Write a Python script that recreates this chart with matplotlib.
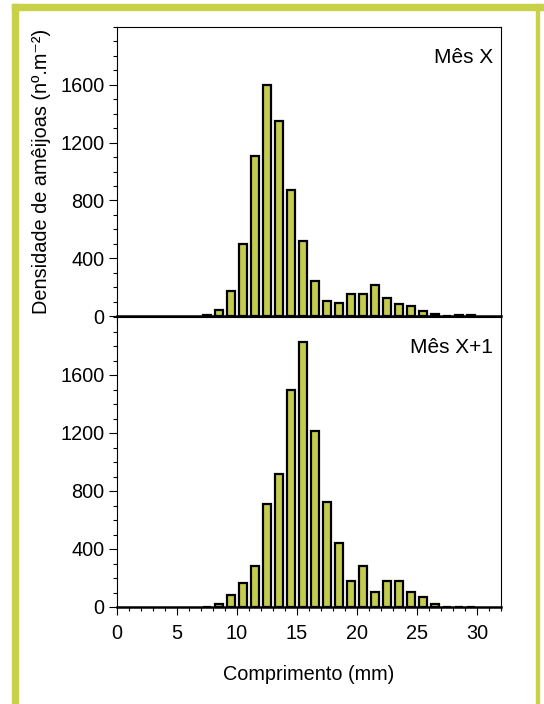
import matplotlib.pyplot as plt
from matplotlib.patches import Rectangle
from matplotlib.ticker import MultipleLocator

plt.rcParams["font.family"] = ["Liberation Sans", "DejaVu Sans"]

# class centres (mm)
length = [7.5, 8.5, 9.5, 10.5, 11.5, 12.5, 13.5, 14.5, 15.5, 16.5, 17.5, 18.5,
          19.5, 20.5, 21.5, 22.5, 23.5, 24.5, 25.5, 26.5, 27.5, 28.5, 29.5]
month_x = [8, 39, 171, 495, 1105, 1600, 1348, 873, 522, 245, 107, 90,
           150, 150, 217, 128, 85, 69, 32, 11, 0, 8, 8]
month_x1 = [0, 20, 80, 165, 283, 708, 920, 1497, 1828, 1215, 722, 438,
            178, 281, 103, 178, 178, 103, 66, 20, 0, 0, 0]

BAR = "#c4cc4f"
FRAME = "#c8d148"
W, H = 544, 704
FS = 14.3

fig = plt.figure(figsize=(W / 100, H / 100), dpi=100)

# green frame
for x0, y0, w, h in [(12, 4, 532, 6), (12, 4, 6, 700), (536, 4, 3, 700)]:
    fig.patches.append(Rectangle((x0 / W, 1 - (y0 + h) / H), w / W, h / H,
                                 transform=fig.transFigure, color=FRAME, zorder=0))

left, right = 117 / W, 501 / W
ax1 = fig.add_axes([left, 1 - 316 / H, right - left, (316 - 27) / H])
ax2 = fig.add_axes([left, 1 - 607 / H, right - left, (607 - 317) / H])

for ax, vals, label in [(ax1, month_x, "Mês X"), (ax2, month_x1, "Mês X+1")]:
    ax.bar(length, vals, width=0.62, color=BAR, edgecolor="black", linewidth=1.6)
    ax.set_xlim(0, 32)
    ax.set_ylim(0, 2000)
    ax.set_yticks([0, 400, 800, 1200, 1600])
    ax.yaxis.set_minor_locator(MultipleLocator(100))
    ax.xaxis.set_major_locator(MultipleLocator(5))
    ax.xaxis.set_minor_locator(MultipleLocator(1))
    ax.tick_params(which="major", direction="out", length=6, width=0.8,
                   labelsize=FS, pad=3)
    ax.tick_params(axis="x", which="major", pad=6)
    ax.tick_params(which="minor", direction="out", length=3, width=0.8)
    for s in ["left", "right", "top"]:
        ax.spines[s].set_linewidth(0.8)
    ax.spines["bottom"].set_linewidth(1.8)
    ax.text(0.98, 0.895, label, transform=ax.transAxes, ha="right", va="center",
            fontsize=15)

ax1.tick_params(axis="x", labelbottom=False)
ax1.set_ylabel("Densidade de amêijoas (nº.m⁻²)", fontsize=FS, labelpad=7)
ax2.set_xlabel("Comprimento (mm)", fontsize=FS, labelpad=16)

fig.savefig("out.png", dpi=100)
